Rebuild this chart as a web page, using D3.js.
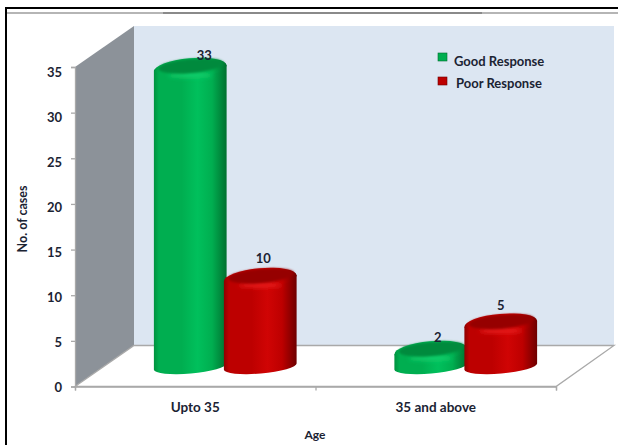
<!DOCTYPE html>
<html>
<head>
<meta charset="utf-8">
<script src="https://cdn.jsdelivr.net/npm/d3@7"></script>
<style>
html, body { margin: 0; padding: 0; background: #fff; overflow: hidden; }
text { font-family: Lato, "Open Sans", sans-serif; font-weight: 700; fill: #1b2333; }
</style>
</head>
<body>
<div id="chart"></div>
<script>
const categories = ['Upto 35', '35 and above'];
const seriesNames = ['Good Response', 'Poor Response'];
const goodResponse = [33, 2];
const poorResponse = [10, 5];
const yTicks = [0, 5, 10, 15, 20, 25, 30, 35];

const width = 618;
const height = 445;

// the 3D box: front plane and how far the back wall is shifted
const frontLeft = 75;
const frontRight = 556;
const yBottom = 386.5;
const yTop = 67;
const depthX = 59;
const depthY = 41;

const seriesColors = {
    'Good Response': { edgeL: '#00923f', edgeR: '#00702f', mid: '#00ae50', light: '#00c05c', cap: '#008a3c', shine: '#12cf6c' },
    'Poor Response': { edgeL: '#8e0000', edgeR: '#6e0000', mid: '#bd0000', light: '#d00404', cap: '#960000', shine: '#e81c1c' }
};

const svg = d3.select('#chart')
    .append('svg')
    .attr('width', width)
    .attr('height', height)
    .style('display', 'block');

const defs = svg.append('defs');
defs.append('filter').attr('id', 'soft').attr('x', '-30%').attr('y', '-60%').attr('width', '160%').attr('height', '220%')
    .append('feGaussianBlur').attr('stdDeviation', 1);
defs.append('filter').attr('id', 'softer').attr('x', '-40%').attr('y', '-150%').attr('width', '180%').attr('height', '400%')
    .append('feGaussianBlur').attr('stdDeviation', 2.2);

seriesNames.forEach((name, i) => {
    const c = seriesColors[name];
    const grad = defs.append('linearGradient').attr('id', 'body' + i);
    [[0, c.edgeL], [0.07, c.mid], [0.38, c.mid], [0.6, c.light], [0.8, c.mid], [1, c.edgeR]].forEach(s => {
        grad.append('stop').attr('offset', s[0]).attr('stop-color', s[1]);
    });
});

const y = d3.scaleLinear().domain([0, 35]).range([yBottom, yTop]);
const x = d3.scaleBand().domain(categories).range([frontLeft, frontRight]);
const seriesX = d3.scaleBand().domain(seriesNames).range([-70, 70]);

// page frame
svg.append('rect').attr('x', 5).attr('y', 7).attr('width', 2).attr('height', height - 7).attr('fill', '#000');
svg.append('rect').attr('x', 5).attr('y', 7).attr('width', width - 5).attr('height', 2).attr('fill', '#000');
svg.append('rect').attr('x', 7).attr('y', 12).attr('width', width - 7).attr('height', 2).attr('fill', '#b5b5b5');
svg.append('rect').attr('x', 163).attr('y', 12).attr('width', 319).attr('height', 2).attr('fill', '#8a8a8a');

// walls and floor
const backWall = [[frontLeft + depthX, yTop - depthY], [frontRight + depthX - 1, yTop - depthY],
    [frontRight + depthX - 1, yBottom - depthY], [frontLeft + depthX, yBottom - depthY]];
const sideWall = [[frontLeft, yTop], [frontLeft + depthX, yTop - depthY],
    [frontLeft + depthX, yBottom - depthY], [frontLeft, yBottom]];
const floor = [[frontLeft, yBottom], [frontLeft + depthX, yBottom - depthY],
    [frontRight + depthX - 1, yBottom - depthY], [frontRight, yBottom]];
const poly = d3.line();

svg.append('path').attr('d', poly(backWall) + 'Z').attr('fill', '#dce6f2');
svg.append('path').attr('d', poly(sideWall) + 'Z').attr('fill', '#8c9299');
svg.append('path').attr('d', poly(floor) + 'Z').attr('fill', '#fff').attr('stroke', '#a9a9a9').attr('stroke-width', 1.3);

// axes
const yAxis = svg.append('g')
    .attr('transform', `translate(${frontLeft},0)`)
    .call(d3.axisLeft(y).tickValues(yTicks).tickSize(4).tickPadding(9));
// labels in the original drift a little below their ticks towards the top
yAxis.selectAll('text')
    .attr('font-size', 13)
    .attr('transform', v => `translate(0,${0.5 + v * 0.13})`)
    .style('fill', '#1b2333');

const edges = d3.scaleLinear().domain([0, 2]).range([frontLeft, frontRight]);
svg.append('g')
    .attr('transform', `translate(0,${yBottom})`)
    .call(d3.axisBottom(edges).tickValues([0, 1, 2]).tickSize(4).tickFormat(''));

const xAxis = svg.append('g')
    .attr('transform', `translate(0,${yBottom})`)
    .call(d3.axisBottom(x).tickSize(0).tickPadding(16));
xAxis.select('.domain').remove();
xAxis.selectAll('text').attr('font-size', 13.5).style('fill', '#1b2333');

svg.selectAll('.domain, .tick line').attr('stroke', '#a9a9a9').attr('stroke-width', 1.3);

// cylinders
const barWidth = 73;
const topLift = 17;
const baseLift = 20;
const depthShift = 30;
const labelNudge = { '0-0': [14, -2], '0-1': [3, -9], '1-0': [7, -3], '1-1': [0, -8] };

const bars = [];
categories.forEach((cat, ci) => {
    [goodResponse, poorResponse].forEach((vals, si) => {
        bars.push({ cat, ci, si, name: seriesNames[si], value: vals[ci] });
    });
});

const tilt = -5;
const rad = Math.abs(tilt) * Math.PI / 180;

const groups = svg.selectAll('.bar').data(bars).enter().append('g').attr('class', 'bar');

groups.each(function (d) {
    const g = d3.select(this);
    const c = seriesColors[d.name];
    const rx = barWidth / 2;
    const cx = x(d.cat) + x.bandwidth() / 2 + depthShift + seriesX(d.name) + seriesX.bandwidth() / 2;
    const topY = y(d.value) - topLift;
    const baseY = y(0) - baseLift;
    const dx = rx * Math.cos(rad);
    const dy = rx * Math.sin(rad);

    g.append('path')
        .attr('d', `M${cx - dx},${topY + dy} L${cx + dx},${topY - dy} L${cx + dx},${baseY - dy}` +
            ` A${rx},7 ${tilt} 0 1 ${cx - dx},${baseY + dy} Z`)
        .attr('fill', `url(#body${d.si})`);

    g.append('ellipse')
        .attr('cx', cx).attr('cy', topY).attr('rx', rx).attr('ry', 10)
        .attr('transform', `rotate(${tilt} ${cx} ${topY})`)
        .attr('fill', `url(#body${d.si})`);

    g.append('ellipse')
        .attr('cx', cx).attr('cy', topY + 7).attr('rx', rx * 0.6).attr('ry', 2.6)
        .attr('fill', c.shine).attr('filter', 'url(#softer)');

    g.append('ellipse')
        .attr('cx', cx + 1).attr('cy', topY - 2.2).attr('rx', rx * 0.9).attr('ry', 7)
        .attr('transform', `rotate(${tilt} ${cx} ${topY})`)
        .attr('fill', c.cap).attr('filter', 'url(#soft)');

    const nudge = labelNudge[d.ci + '-' + d.si];
    g.append('text')
        .attr('x', cx + nudge[0])
        .attr('y', topY - 10 + nudge[1] + 4)
        .attr('text-anchor', 'middle')
        .attr('font-size', 13)
        .text(d.value);
});

// legend
const legendRows = [[438, 53, 454], [438, 77, 456]];
seriesNames.forEach((name, i) => {
    const row = legendRows[i];
    const c = seriesColors[name];
    svg.append('rect').attr('x', row[0]).attr('y', row[1]).attr('width', 9).attr('height', 8)
        .attr('fill', c.mid).attr('stroke', c.edgeR).attr('stroke-width', 0.6);
    svg.append('text').attr('x', row[2]).attr('y', row[1] + 13 - i * 2.5)
        .attr('font-size', 13).text(name);
});

// axis titles
svg.append('text')
    .attr('transform', 'translate(27,219) rotate(-90)')
    .attr('text-anchor', 'middle')
    .attr('font-size', 12.5)
    .text('No. of cases');
svg.append('text')
    .attr('x', 315).attr('y', 439)
    .attr('text-anchor', 'middle')
    .attr('font-size', 12)
    .text('Age');
</script>
</body>
</html>
